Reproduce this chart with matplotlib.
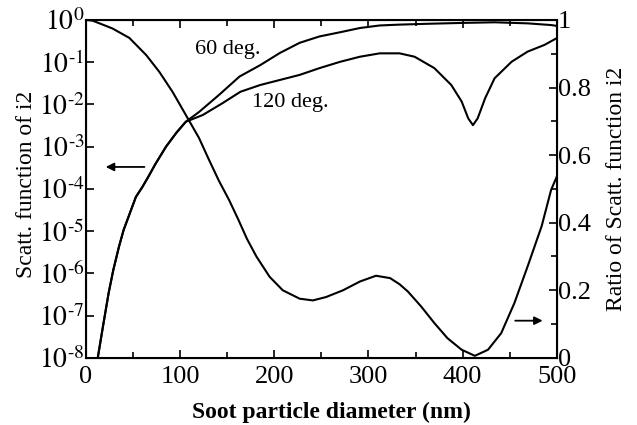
import numpy as np
import matplotlib.pyplot as plt
from matplotlib.ticker import FixedLocator, NullLocator, MultipleLocator

plt.rcParams['font.family'] = ['Liberation Serif', 'DejaVu Serif']
plt.rcParams['mathtext.fontset'] = 'stix'

# data (diameter in nm, left curves as log10 of i2)
d_rise = [12.5, 18, 24, 29, 35, 40, 53, 60, 66, 74, 85, 96, 106]
log_rise = [-8.0, -7.26, -6.47, -5.92, -5.37, -4.97, -4.19, -3.95, -3.72, -3.40, -3.0, -2.67, -2.41]

d_60 = [120, 141, 163, 185, 206, 227, 248, 270, 291, 312, 333, 363, 399, 434, 469, 494, 500]
log_60 = [-2.18, -1.78, -1.34, -1.07, -0.78, -0.54, -0.39, -0.29, -0.19, -0.13, -0.11,
          -0.09, -0.07, -0.055, -0.08, -0.12, -0.14]

d_120 = [124, 145, 164, 185, 206, 227, 248, 270, 291, 312, 333, 349, 370, 388, 399, 406,
         411, 416, 424, 434, 452, 469, 487, 500]
log_120 = [-2.25, -1.97, -1.70, -1.54, -1.42, -1.30, -1.14, -0.99, -0.87, -0.79, -0.79,
           -0.87, -1.14, -1.54, -1.93, -2.33, -2.49, -2.33, -1.85, -1.38, -0.99, -0.75,
           -0.59, -0.43]

d_ratio = [0, 7, 28, 46, 64, 78, 92, 106, 120, 130, 141, 152, 162, 171, 181, 195, 209,
           227, 241, 255, 273, 291, 308, 323, 333, 342, 356, 370, 384, 399, 413, 427,
           441, 455, 469, 484, 494, 500]
ratio = [1.0, 0.998, 0.975, 0.947, 0.896, 0.846, 0.787, 0.719, 0.651, 0.59, 0.525, 0.467,
         0.408, 0.352, 0.30, 0.24, 0.20, 0.175, 0.17, 0.18, 0.20, 0.226, 0.243, 0.236,
         0.218, 0.196, 0.152, 0.103, 0.058, 0.024, 0.006, 0.024, 0.073, 0.162, 0.27,
         0.39, 0.497, 0.536]

decades = list(range(-8, 1))
left_labels = ['$10^{0}$' if k == 0 else '$10^{\\text{-}%d}$' % -k for k in decades]

x60 = np.array(d_rise + d_60)
y60 = 10.0 ** np.array(log_rise + log_60)
x120 = np.array(d_rise + d_120)
y120 = 10.0 ** np.array(log_rise + log_120)

fig = plt.figure(figsize=(6.37, 4.25), dpi=100)
ax = fig.add_axes([0.135, 0.158, 0.739, 0.795])
ax.plot(x60, y60, color='black', lw=1.5)
ax.plot(x120, y120, color='black', lw=1.5)
ax.set_yscale('log')
ax.set_xlim(0, 500)
ax.set_ylim(1e-8, 1)
ax.yaxis.set_major_locator(FixedLocator([10.0 ** k for k in decades]))
ax.yaxis.set_minor_locator(NullLocator())
ax.set_yticklabels(left_labels)
ax.xaxis.set_major_locator(MultipleLocator(100))
ax.xaxis.set_minor_locator(MultipleLocator(50))
ax.tick_params(axis='both', which='both', direction='in')
ax.tick_params(axis='x', which='both', top=True, labelsize=19, pad=6)
ax.tick_params(axis='y', labelsize=20, pad=1)
ax.tick_params(which='major', length=6, width=1.2)
ax.tick_params(which='minor', length=4, width=1.2)
for s in ax.spines.values():
    s.set_linewidth(1.5)
ax.set_xlabel('Soot particle diameter (nm)', fontsize=17, fontweight='bold')
ax.xaxis.set_label_coords(0.522, -0.13)
ax.set_ylabel('Scatt. function of i2', fontsize=17)
ax.yaxis.set_label_coords(-0.104, 0.512)

ax2 = ax.twinx()
ax2.plot(d_ratio, ratio, color='black', lw=1.5)
ax2.set_ylim(0, 1)
ax2.set_yticks([0, 0.2, 0.4, 0.6, 0.8, 1.0])
ax2.set_yticklabels(['0', '0.2', '0.4', '0.6', '0.8', '1'])
ax2.yaxis.set_minor_locator(MultipleLocator(0.1))
ax2.tick_params(axis='y', which='both', direction='in', labelsize=19, width=1.2, pad=1)
ax2.tick_params(which='major', length=6)
ax2.tick_params(which='minor', length=4)
ax2.set_ylabel('Ratio of Scatt. function i2', fontsize=17, labelpad=11)

ax.text(151, 10 ** -0.71, '60 deg.', fontsize=16, ha='center', va='center')
ax.text(217, 10 ** -1.96, '120 deg.', fontsize=16, ha='center', va='center')
ax.annotate('', xy=(18, 10 ** -3.48), xytext=(65, 10 ** -3.48),
            arrowprops=dict(arrowstyle='-|>', color='black', lw=1.3, mutation_scale=12))
ax2.annotate('', xy=(488, 0.11), xytext=(453, 0.11),
             arrowprops=dict(arrowstyle='-|>', color='black', lw=1.3, mutation_scale=12))

fig.savefig('out.png', dpi=100)
